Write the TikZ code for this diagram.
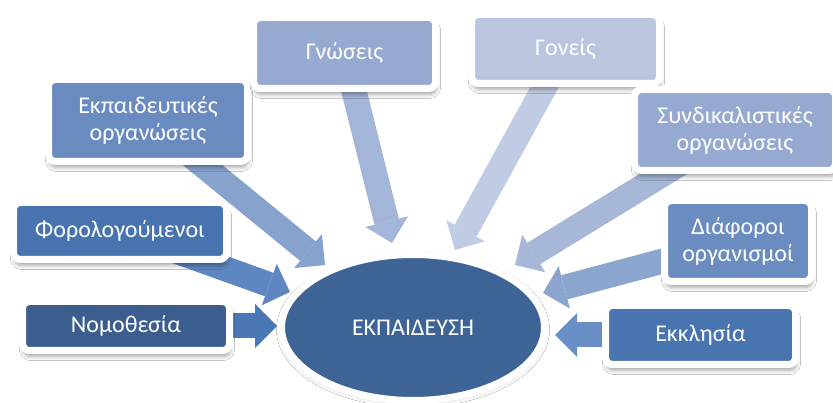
\documentclass[tikz,border=0pt]{standalone}
\usepackage{fontspec}
\setmainfont{Carlito}
\usetikzlibrary{arrows.meta,shadows.blur,backgrounds,shapes.geometric}
\definecolor{cEll}{HTML}{3E6495}
\definecolor{cNom}{HTML}{3B5E8E}
\definecolor{cTax}{HTML}{4773AE}
\definecolor{cChu}{HTML}{4874AF}
\definecolor{cEdu}{HTML}{6A8BC0}
\definecolor{cVar}{HTML}{6B8CC1}
\definecolor{cKnow}{HTML}{95A9D1}
\definecolor{cUni}{HTML}{95A9D1}
\definecolor{cPar}{HTML}{BAC6E0}
\definecolor{aNom}{HTML}{4A78B5}
\definecolor{aTax}{HTML}{5E86C0}
\definecolor{aEdu}{HTML}{88A2CE}
\definecolor{aKnow}{HTML}{A3B5D9}
\definecolor{aPar}{HTML}{C0CCE4}
\definecolor{aUni}{HTML}{A6B7D8}
\definecolor{aVar}{HTML}{8CA5CF}
\definecolor{aChu}{HTML}{6A8FC7}
\begin{document}
\begin{tikzpicture}[x=1pt,y=-1pt,
  box/.style={draw=white, line width=7pt, rounded corners=7pt, text=white,
    align=center, inner sep=0pt, font=\fontsize{24}{27}\selectfont,
    blur shadow={shadow xshift=1pt, shadow yshift=-6pt, shadow opacity=35, shadow blur radius=4pt}},
  arw/.style={line width=25pt, -{Triangle[width=44pt,length=22pt,line width=0pt]}},
]
\useasboundingbox (0,0) rectangle (833,403);

\node[box, fill=cNom, minimum width=207pt, minimum height=49pt] (nom) at (126,326) {Νομοθεσία};
\node[box, fill=cTax, minimum width=213pt, minimum height=57pt] (tax) at (120,231) {Φορολογούμενοι};
\node[box, fill=cEdu, minimum width=199pt, minimum height=82pt] (edu) at (148,120.5) {Εκπαιδευτικές\\οργανώσεις};
\node[box, fill=cKnow, minimum width=182pt, minimum height=71pt] (know) at (344.5,53) {Γνώσεις};
\node[box, fill=cPar, minimum width=188pt, minimum height=69pt] (par) at (565.5,49) {Γονείς};
\node[box, fill=cUni, minimum width=201pt, minimum height=81pt] (uni) at (735,130) {Συνδικαλιστικές\\οργανώσεις};
\node[box, fill=cVar, minimum width=147pt, minimum height=81pt] (var) at (738,241) {Διάφοροι\\οργανισμοί};
\node[box, fill=cChu, minimum width=190pt, minimum height=59pt] (chu) at (700.5,335) {Εκκλησία};

\node[ellipse, draw=white, line width=7pt, fill=cEll, minimum width=263pt, minimum height=146pt,
  inner sep=0pt, text=white, font=\fontsize{24}{27}\selectfont,
  blur shadow={shadow xshift=0pt, shadow yshift=-2pt, shadow opacity=25, shadow blur radius=5pt}] (ekp) at (413,327.5) {ΕΚΠΑΙΔΕΥΣΗ};

\coordinate (tnom) at (277,326);
\coordinate (ttax) at (290,292);
\coordinate (tedu) at (325,265);
\coordinate (tknow) at (392,243);
\coordinate (tpar) at (455,250);
\coordinate (tuni) at (515,265);
\coordinate (tvar) at (543,293);
\coordinate (tchu) at (555,335);

\begin{scope}[on background layer]
\fill[white] (0,0) rectangle (833,403);
\draw[arw, aNom] (nom.center) -- (tnom);
\draw[arw, aTax] (tax.center) -- (ttax);
\draw[arw, aEdu] (edu.center) -- (tedu);
\draw[arw, aKnow] (know.center) -- (tknow);
\draw[arw, aPar] (par.center) -- (tpar);
\draw[arw, aUni] (uni.center) -- (tuni);
\draw[arw, aVar] (var.center) -- (tvar);
\draw[arw, aChu] (chu.center) -- (tchu);
\end{scope}
\end{tikzpicture}
\end{document}
